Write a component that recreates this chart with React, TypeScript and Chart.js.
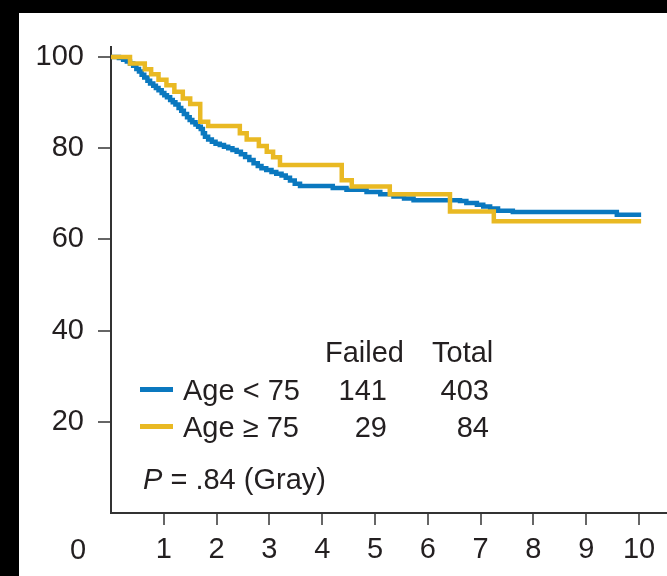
import React, { useEffect, useRef } from "react";
import { Chart, registerables } from "chart.js";

Chart.register(...registerables);

// Kaplan-Meier curves (years vs. % free of failure)
const timesBlue = [0, 0.15, 0.23, 0.30, 0.36, 0.42, 0.48, 0.53, 0.58, 0.63, 0.69, 0.74, 0.80, 0.85, 0.90, 0.96, 1.01, 1.06, 1.12, 1.17, 1.22, 1.28, 1.33, 1.38, 1.44, 1.49, 1.54, 1.60, 1.65, 1.70, 1.74, 1.78, 1.84, 1.91, 1.98, 2.06, 2.14, 2.22, 2.30, 2.38, 2.46, 2.54, 2.62, 2.70, 2.78, 2.85, 2.94, 3.04, 3.13, 3.23, 3.31, 3.39, 3.48, 3.58, 4.20, 4.46, 4.84, 5.10, 5.35, 5.55, 5.73, 6.61, 6.73, 6.93, 7.05, 7.18, 7.33, 7.61, 9.58, 10.04];
const survBlue = [100, 99.8, 99.4, 99.0, 98.6, 98.1, 97.4, 96.8, 96.1, 95.5, 94.8, 94.2, 93.7, 93.2, 92.7, 92.1, 91.6, 91.2, 90.6, 90.1, 89.6, 88.8, 88.2, 87.5, 86.8, 86.2, 85.7, 85.2, 84.7, 84.2, 83.3, 82.5, 81.9, 81.4, 81.0, 80.7, 80.3, 80.0, 79.6, 79.2, 78.7, 78.1, 77.4, 76.7, 76.1, 75.6, 75.2, 74.8, 74.4, 74.0, 73.5, 72.9, 72.2, 71.7, 71.3, 70.9, 70.4, 69.9, 69.4, 69.0, 68.6, 68.4, 68.0, 67.6, 67.2, 66.8, 66.3, 66.0, 65.4, 65.4];

const timesYellow = [0, 0.36, 0.64, 0.76, 0.90, 1.05, 1.20, 1.36, 1.50, 1.69, 1.84, 2.44, 2.57, 2.80, 2.95, 3.07, 3.20, 4.37, 4.56, 5.28, 6.42, 7.25, 10.04];
const survYellow = [100, 98.6, 97.3, 96.2, 95.0, 93.8, 92.4, 90.9, 89.7, 85.8, 84.9, 83.3, 81.9, 80.5, 79.2, 78.0, 76.3, 73.0, 71.6, 69.9, 66.1, 64.0, 64.0];

const xTickValues = [1, 2, 3, 4, 5, 6, 7, 8, 9, 10];
const yTickValues = [20, 40, 60, 80, 100];

const groupLabels = ["Age < 75", "Age \u2265 75"];
const failedCounts = ["141", "29"];
const totalCounts = ["403", "84"];
const pValueText = " = .84 (Gray)";

const BLUE = "#0a78bf";
const YELLOW = "#e9b923";
const TEXT = "#231f20";
const FONT = "'Liberation Sans', Arial, Helvetica, sans-serif";

const annotationPlugin = {
  id: "kmAnnotations",
  afterDraw(chart: any) {
    const ctx = chart.ctx;
    const L = chart.chartArea.left;
    ctx.save();
    ctx.fillStyle = TEXT;
    ctx.font = `29px ${FONT}`;
    ctx.textBaseline = "alphabetic";

    // origin "0" label
    ctx.textAlign = "center";
    ctx.fillText("0", L - 33, 559);

    // headers
    ctx.textAlign = "left";
    ctx.fillText("Failed", L + 214, 362);
    ctx.fillText("Total", L + 321, 362);

    const rowBase = [400, 437];
    const rowLine = [389.5, 426.5];
    const colors = [BLUE, YELLOW];
    for (let i = 0; i < 2; i++) {
      ctx.strokeStyle = colors[i];
      ctx.lineWidth = 5;
      ctx.beginPath();
      ctx.moveTo(L + 29, rowLine[i]);
      ctx.lineTo(L + 62, rowLine[i]);
      ctx.stroke();
      ctx.fillStyle = TEXT;
      ctx.textAlign = "left";
      ctx.fillText(groupLabels[i], L + 72, rowBase[i]);
      ctx.textAlign = "right";
      ctx.fillText(failedCounts[i], L + 276, rowBase[i]);
      ctx.fillText(totalCounts[i], L + 378, rowBase[i]);
    }

    // P value
    ctx.textAlign = "left";
    ctx.font = `italic 29px ${FONT}`;
    ctx.fillText("P", L + 32, 489);
    const pw = ctx.measureText("P").width;
    ctx.font = `29px ${FONT}`;
    ctx.fillText(pValueText, L + 32 + pw, 489);
    ctx.restore();
  },
};

export default function App() {
  const canvasRef = useRef<HTMLCanvasElement | null>(null);

  useEffect(() => {
    if (!canvasRef.current) return;
    const blueData = timesBlue.map((t, i) => ({ x: t, y: survBlue[i] }));
    const yellowData = timesYellow.map((t, i) => ({ x: t, y: survYellow[i] }));

    const chart = new Chart(canvasRef.current, {
      type: "line",
      data: {
        datasets: [
          {
            label: groupLabels[1],
            data: yellowData,
            borderColor: YELLOW,
            borderWidth: 4.5,
            pointRadius: 0,
            stepped: true,
            fill: false,
            order: 0,
          },
          {
            label: groupLabels[0],
            data: blueData,
            borderColor: BLUE,
            borderWidth: 4.5,
            pointRadius: 0,
            stepped: true,
            fill: false,
            order: 1,
          },
        ],
      },
      options: {
        responsive: false,
        animation: false,
        devicePixelRatio: 1,
        layout: { padding: { top: 47, left: 0, right: 0, bottom: 0 } },
        plugins: {
          legend: { display: false },
          tooltip: { enabled: false },
          title: { display: false },
        },
        scales: {
          x: {
            type: "linear",
            min: 0,
            max: 10.53,
            afterBuildTicks: (scale: any) => {
              scale.ticks = xTickValues.map((v) => ({ value: v }));
            },
            afterFit: (scale: any) => {
              scale.height = 63;
            },
            grid: {
              display: true,
              drawOnChartArea: false,
              drawTicks: true,
              tickLength: 12,
              color: "#666",
              lineWidth: 2,
            },
            border: { display: true, color: "#333", width: 2 },
            ticks: {
              color: TEXT,
              font: { family: FONT, size: 29 },
              padding: 8,
              maxRotation: 0,
              autoSkip: false,
            },
          },
          y: {
            type: "linear",
            min: 0,
            max: 102.2,
            afterBuildTicks: (scale: any) => {
              scale.ticks = yTickValues.map((v) => ({ value: v }));
            },
            afterFit: (scale: any) => {
              scale.width = 111;
            },
            grid: {
              display: true,
              drawOnChartArea: false,
              drawTicks: true,
              tickLength: 13,
              color: "#666",
              lineWidth: 2,
            },
            border: { display: true, color: "#333", width: 2 },
            ticks: {
              color: TEXT,
              font: { family: FONT, size: 29 },
              padding: 14,
              autoSkip: false,
            },
          },
        },
      },
      plugins: [annotationPlugin],
    });
    return () => chart.destroy();
  }, []);

  return (
    <div
      style={{
        position: "fixed",
        left: 0,
        top: 0,
        width: 667,
        height: 576,
        background: "#000",
        overflow: "hidden",
      }}
    >
      <div
        style={{
          position: "absolute",
          left: 19,
          top: 13,
          right: 0,
          bottom: 0,
          background: "#fff",
        }}
      />
      <canvas
        ref={canvasRef}
        width={667}
        height={576}
        style={{ position: "absolute", left: 0, top: 0, width: 667, height: 576 }}
      />
    </div>
  );
}
